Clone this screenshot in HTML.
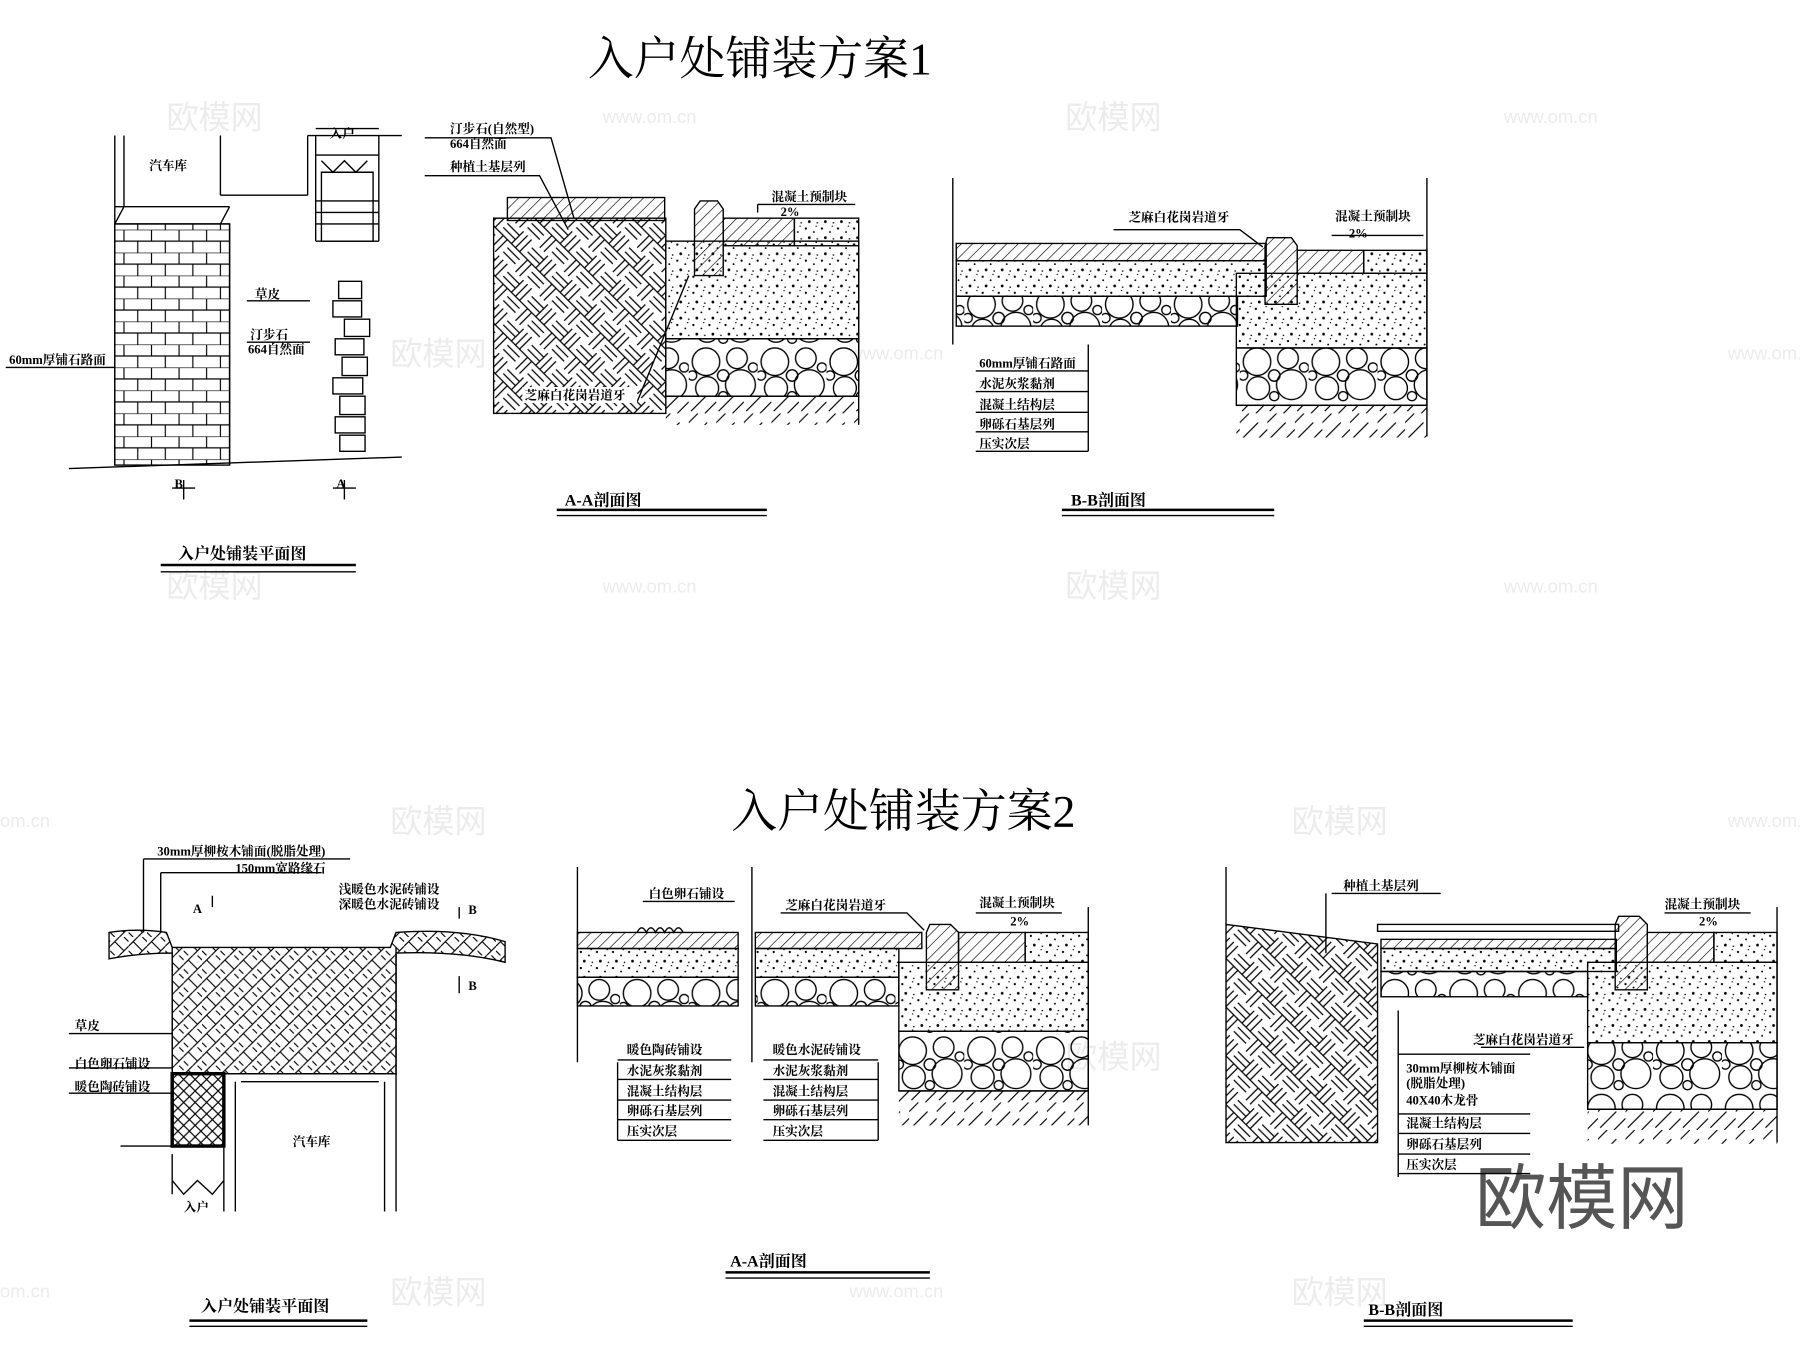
<!DOCTYPE html>
<html><head><meta charset="utf-8"><style>
html,body{margin:0;padding:0;background:#fff}
svg{display:block}
text{font-family:"Liberation Serif","Noto Serif CJK SC",serif;fill:#000}
.s{font-size:11px;font-weight:bold}
.t{font-size:40px}
.c{font-size:14px;font-weight:bold}
.ln{stroke:#000;fill:none;stroke-width:1.2}
.tk{stroke:#000;fill:none;stroke-width:2.2}
.wm text{fill:#ececec;font-family:"Liberation Sans","Noto Sans CJK SC",sans-serif}
</style></head><body>
<svg width="1800" height="1347" viewBox="0 0 1568 1173" preserveAspectRatio="none" xmlns="http://www.w3.org/2000/svg">
<defs>
<pattern id="hatch" width="7" height="7" patternUnits="userSpaceOnUse" patternTransform="rotate(45)"><line x1="0" y1="0" x2="0" y2="7" stroke="#000" stroke-width="1.1"/></pattern>
<pattern id="soil" width="24" height="24" patternUnits="userSpaceOnUse"><path d="M2 22L16 8M14 24L24 14M-2 10L8 0" stroke="#000" stroke-width="1"/></pattern>
<pattern id="weave" width="30" height="30" patternUnits="userSpaceOnUse" patternTransform="rotate(45)"><path d="M0 5H15M0 10H15M15 0V15M20 0V15M25 0V15M15 20H30M15 25H30M5 15V30M10 15V30M0 15H30" stroke="#000" stroke-width="1.1" fill="none"/></pattern>
<pattern id="dots" width="14" height="14" patternUnits="userSpaceOnUse"><circle cx="2" cy="3" r="1" fill="#000"/><circle cx="9" cy="6" r="0.8" fill="#000"/><circle cx="5" cy="11" r="1.2" fill="#000"/><circle cx="12" cy="12" r="0.7" fill="#000"/><circle cx="11" cy="1" r="0.6" fill="#000"/></pattern>
<pattern id="grav" width="60" height="50" patternUnits="userSpaceOnUse"><g fill="none" stroke="#000" stroke-width="1.2"><circle cx="15" cy="15" r="12"/><circle cx="42" cy="12" r="9"/><circle cx="45" cy="35" r="13"/><circle cx="16" cy="38" r="10"/><circle cx="30" cy="27" r="5"/><circle cx="56" cy="20" r="4"/><circle cx="3" cy="27" r="4"/><circle cx="30" cy="45" r="4"/></g></pattern>
<pattern id="herr" width="16" height="16" patternUnits="userSpaceOnUse"><path d="M0 8L8 0M8 16L16 8M4 4L12 12M0 12L4 16M12 0L16 4" stroke="#000" stroke-width="1"/></pattern>
<pattern id="brick" width="24" height="20" patternUnits="userSpaceOnUse"><path d="M0 0H24M0 10H24M12 0V10M0 10V20M24 10V20" stroke="#000" stroke-width="1" fill="none"/></pattern>
<pattern id="xx" width="10" height="10" patternUnits="userSpaceOnUse"><path d="M0 0L10 10M10 0L0 10" stroke="#000" stroke-width="1"/></pattern>
</defs>

<g class="wm" font-size="28"><text x="145" y="112">欧模网</text><text x="928" y="112">欧模网</text><text x="340" y="318">欧模网</text><text x="145" y="520">欧模网</text><text x="928" y="520">欧模网</text><text x="340" y="725">欧模网</text><text x="1125" y="725">欧模网</text><text x="340" y="1135">欧模网</text><text x="1125" y="1135">欧模网</text><text x="928" y="930">欧模网</text></g>
<g class="wm" font-size="16"><text x="525" y="107">www.om.cn</text><text x="1310" y="107">www.om.cn</text><text x="525" y="516">www.om.cn</text><text x="1310" y="516">www.om.cn</text><text x="740" y="313">www.om.cn</text><text x="1505" y="313">www.om.cn</text><text x="740" y="1130">www.om.cn</text><text x="0" y="720">om.cn</text><text x="1505" y="720">www.om.cn</text><text x="0" y="1130">om.cn</text></g>
<text x="1285" y="1065" font-size="62" style="fill:#555;font-family:'Noto Sans CJK SC',sans-serif">欧模网</text>

<text class="t" x="512" y="65">入户处铺装方案1</text>
<text class="t" x="637" y="720">入户处铺装方案2</text>

<g class="ln">
<path d="M100 118V405M108 118V180M192 118V170M268 118V170M192 170H268M268 118H350M100 180H200M108 180L100 195M200 180L192 195M100 195H200V405"/>
<path d="M275 118V210M330 118V210M275 112H330M275 135H330M275 210H330"/>
<path d="M60 408L350 398"/>
<rect x="100" y="195" width="100" height="210" fill="url(#brick)"/>
<path d="M280 150H325V210H280Z M280 140L290 150L300 140L310 150L320 140"/>
<path d="M275 175H330M275 185H330M275 195H330"/>
<path d="M295 245h20v15h-20zM290 262h25v14h-25zM300 278h22v15h-22zM292 295h25v14h-25zM298 311h22v16h-22zM290 329h26v14h-26zM296 345h22v16h-22zM292 363h26v14h-26zM296 379h22v14h-22z"/>
<path d="M160 418V435M150 425H170M300 418V435M290 425H310M5 320H100M215 262H270M215 298H270"/>
<path d="M140 492H310" class="tk"/><path d="M140 498H310"/>
</g>
<text class="s" x="130" y="148">汽车库</text><text class="s" x="287" y="120">入户</text>
<text class="s" x="222" y="260">草皮</text><text class="s" x="218" y="295">汀步石</text><text class="s" x="216" y="308">664自然面</text>
<text class="s" x="8" y="317">60mm厚铺石路面</text><text class="s" x="152" y="425">B</text><text class="s" x="293" y="425">A</text>
<text class="c" x="155" y="487">入户处铺装平面图</text>

<g class="ln">
<rect x="430" y="190" width="150" height="170" fill="url(#weave)"/>
<rect x="442" y="172" width="137" height="20" fill="url(#hatch)"/>
<rect x="580" y="210" width="168" height="85" fill="url(#dots)"/>
<rect x="580" y="295" width="168" height="50" fill="url(#grav)"/>
<rect x="580" y="345" width="168" height="25" fill="url(#soil)" stroke="none"/>
<path d="M580 345H748M748 215V370"/>
<path d="M610 175H625L630 182V240H605V182Z" fill="url(#hatch)"/>
<rect x="630" y="190" width="62" height="24" fill="url(#hatch)"/>
<rect x="692" y="190" width="56" height="24" fill="url(#dots)"/>
<path d="M370 120H480L500 190M370 153H470L495 200M555 350L600 240M480 345H555M660 185V178M660 178H745"/>
<path d="M485 444H668" class="tk"/><path d="M485 449H668"/>
</g>
<text class="s" x="392" y="116">汀步石(自然型)</text><text class="s" x="392" y="129">664自然面</text><text class="s" x="392" y="149">种植土基层列</text>
<text class="s" x="672" y="175">混凝土预制块</text><text class="s" x="680" y="188">2%</text>
<rect x="455" y="337" width="100" height="14" fill="#fff"/>
<text class="s" x="457" y="348">芝麻白花岗岩道牙</text>
<text class="c" x="492" y="440">A-A剖面图</text>

<g class="ln">
<path d="M830 155V300"/>
<rect x="833" y="212" width="270" height="15" fill="url(#hatch)"/>
<rect x="833" y="227" width="270" height="31" fill="url(#dots)"/>
<rect x="833" y="258" width="245" height="26" fill="url(#grav)"/>
<path d="M1104 207H1125L1130 214V265H1102V214Z" fill="url(#hatch)"/>
<rect x="1130" y="218" width="58" height="20" fill="url(#hatch)"/>
<rect x="1188" y="218" width="55" height="20" fill="url(#dots)"/>
<rect x="1077" y="238" width="166" height="65" fill="url(#dots)"/>
<rect x="1077" y="303" width="166" height="50" fill="url(#grav)"/>
<rect x="1077" y="353" width="166" height="28" fill="url(#soil)" stroke="none"/>
<path d="M1077 353H1243M1243 155V380M948 300V393M850 323H948M850 341H948M850 359H948M850 376H948M850 393H948M970 200H1080L1100 215M1160 205H1240"/>
<path d="M925 444H1110" class="tk"/><path d="M925 449H1110"/>
</g>
<text class="s" x="983" y="193">芝麻白花岗岩道牙</text><text class="s" x="1163" y="192">混凝土预制块</text><text class="s" x="1175" y="207">2%</text>
<text class="s" x="853" y="320">60mm厚铺石路面</text><text class="s" x="853" y="338">水泥灰浆黏剂</text><text class="s" x="853" y="356">混凝土结构层</text><text class="s" x="853" y="373">卵砾石基层列</text><text class="s" x="853" y="390">压实次层</text>
<text class="c" x="933" y="440">B-B剖面图</text>

<g class="ln">
<path d="M95 812Q120 808 145 812L150 825H340L345 812Q400 808 440 820V838Q400 828 345 830V935H150V830Q120 830 95 835Z" fill="url(#herr)"/>
<path d="M150 825V935H345V825"/>
<rect x="150" y="935" width="45" height="63" fill="url(#xx)" stroke-width="3"/>
<path d="M195 935V1055M205 942V1055M345 935V1055M335 942V1055M210 942H330M105 998H150M150 1005V1040M195 1005V1040M150 1028L160 1040L172 1028L185 1040L195 1028"/>
<path d="M125 748H305M125 748V812M140 760H280M140 760V812M185 780V790M400 790V800M400 850V865M60 900H150M60 930H150M60 952H150"/>
<path d="M165 1150H320" class="tk"/><path d="M165 1155H320"/>
</g>
<text class="s" x="137" y="745">30mm厚柳桉木铺面(脱脂处理)</text><text class="s" x="205" y="760">150mm宽路缘石</text>
<text class="s" x="295" y="778">浅暖色水泥砖铺设</text><text class="s" x="295" y="791">深暖色水泥砖铺设</text>
<text class="s" x="168" y="795">A</text><text class="s" x="408" y="796">B</text><text class="s" x="408" y="862">B</text>
<text class="s" x="65" y="897">草皮</text><text class="s" x="65" y="930">白色卵石铺设</text><text class="s" x="65" y="950">暖色陶砖铺设</text>
<text class="s" x="255" y="998">汽车库</text><text class="s" x="160" y="1055">入户</text>
<text class="c" x="175" y="1142">入户处铺装平面图</text>

<g class="ln">
<path d="M503 755V925M655 755V925"/>
<rect x="503" y="812" width="140" height="14" fill="url(#hatch)"/>
<rect x="503" y="826" width="140" height="25" fill="url(#dots)"/>
<rect x="503" y="851" width="140" height="25" fill="url(#grav)"/>
<path d="M555 812q4-8 8 0q4-8 8 0q4-8 8 0q4-8 8 0q4-8 8 0"/>
<rect x="658" y="812" width="145" height="14" fill="url(#hatch)"/>
<rect x="658" y="826" width="125" height="25" fill="url(#dots)"/>
<rect x="658" y="851" width="125" height="25" fill="url(#grav)"/>
<path d="M810 805H828L835 812V862H807V812Z" fill="url(#hatch)"/>
<rect x="835" y="812" width="58" height="26" fill="url(#hatch)"/>
<rect x="893" y="812" width="55" height="26" fill="url(#dots)"/>
<rect x="783" y="838" width="165" height="60" fill="url(#dots)"/>
<rect x="783" y="898" width="165" height="52" fill="url(#grav)"/>
<rect x="783" y="950" width="165" height="30" fill="url(#soil)" stroke="none"/>
<path d="M783 950H948M948 790V980M538 925V993M765 925V993M538 923H637M538 940H637M538 958H637M538 975H637M538 993H637M665 923H765M665 940H765M665 958H765M665 975H765M665 993H765M560 785H640M680 795H790L805 810M850 795H925"/>
<path d="M632 1108H810" class="tk"/><path d="M632 1113H810"/>
</g>
<text class="s" x="565" y="782">白色卵石铺设</text><text class="s" x="684" y="792">芝麻白花岗岩道牙</text><text class="s" x="853" y="790">混凝土预制块</text><text class="s" x="880" y="806">2%</text>
<text class="s" x="546" y="918">暖色陶砖铺设</text><text class="s" x="546" y="936">水泥灰浆黏剂</text><text class="s" x="546" y="954">混凝土结构层</text><text class="s" x="546" y="971">卵砾石基层列</text><text class="s" x="546" y="989">压实次层</text>
<text class="s" x="673" y="918">暖色水泥砖铺设</text><text class="s" x="673" y="936">水泥灰浆黏剂</text><text class="s" x="673" y="954">混凝土结构层</text><text class="s" x="673" y="971">卵砾石基层列</text><text class="s" x="673" y="989">压实次层</text>
<text class="c" x="636" y="1103">A-A剖面图</text>

<g class="ln">
<path d="M1068 755V930M1068 805L1200 822V995L1068 995Z" fill="url(#weave)"/>
<rect x="1200" y="805" width="210" height="6"/>
<rect x="1203" y="818" width="205" height="8" fill="url(#hatch)"/>
<rect x="1203" y="826" width="205" height="20" fill="url(#dots)"/>
<rect x="1203" y="846" width="180" height="22" fill="url(#grav)"/>
<path d="M1410 798H1428L1435 805V862H1407V805Z" fill="url(#hatch)"/>
<rect x="1435" y="812" width="58" height="26" fill="url(#hatch)"/>
<rect x="1493" y="812" width="55" height="26" fill="url(#dots)"/>
<rect x="1383" y="838" width="165" height="70" fill="url(#dots)"/>
<rect x="1383" y="908" width="165" height="58" fill="url(#grav)"/>
<rect x="1383" y="966" width="165" height="30" fill="url(#soil)" stroke="none"/>
<path d="M1383 966H1548M1548 790V995M1218 880V1025M1218 918H1333M1218 970H1333M1218 987H1333M1218 1005H1333M1218 1022H1333M1160 778H1255M1155 778V830M1290 912H1380M1450 795H1525"/>
<path d="M1188 1150H1370" class="tk"/><path d="M1188 1155H1370"/>
</g>
<text class="s" x="1170" y="775">种植土基层列</text><text class="s" x="1450" y="791">混凝土预制块</text><text class="s" x="1480" y="806">2%</text>
<text class="s" x="1283" y="909">芝麻白花岗岩道牙</text>
<text class="s" x="1225" y="934">30mm厚柳桉木铺面</text><text class="s" x="1225" y="947">(脱脂处理)</text><text class="s" x="1225" y="962">40X40木龙骨</text>
<text class="s" x="1225" y="982">混凝土结构层</text><text class="s" x="1225" y="1000">卵砾石基层列</text><text class="s" x="1225" y="1018">压实次层</text>
<text class="c" x="1192" y="1145">B-B剖面图</text>
</svg>
</body></html>
